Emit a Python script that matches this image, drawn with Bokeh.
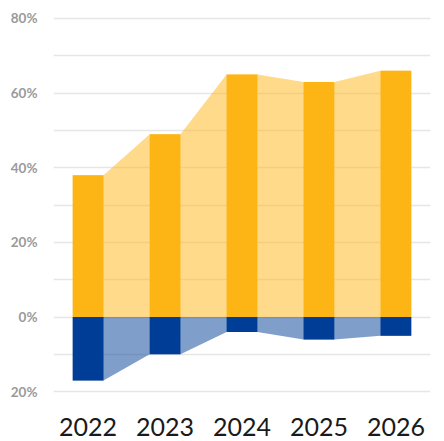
from bokeh.plotting import figure
from bokeh.models import FixedTicker, Range1d
from bokeh.embed import file_html
from bokeh.resources import INLINE

years = ["2022", "2023", "2024", "2025", "2026"]
positive = [38, 49, 65, 63, 66]
negative = [-17, -10, -4, -6, -5]
y_ticks = [-20, 0, 20, 40, 60, 80]
y_minor = [-10, 10, 30, 50, 70]
y_labels = ["20%", "0%", "20%", "40%", "60%", "80%"]

ORANGE = "#FDB515"
BLUE = "#003D96"
BW = 0.4

x = list(range(len(years)))

p = figure(width=444, height=441, output_backend="svg", toolbar_location=None,
           x_range=Range1d(-0.45, len(years) - 0.55), y_range=Range1d(-21.84, 82.14),
           min_border_left=53, min_border_right=14, min_border_top=10, min_border_bottom=43)
p.outline_line_color = None
p.background_fill_color = "white"

# connecting areas (outline through bar tops; bars drawn over)
ax, ap, an = [], [], []
for i, xi in enumerate(x):
    ax += [xi - BW / 2, xi + BW / 2]
    ap += [positive[i], positive[i]]
    an += [negative[i], negative[i]]
p.varea(x=ax, y1=[0] * len(ax), y2=ap, fill_color=ORANGE, fill_alpha=0.5)
p.varea(x=ax, y1=[0] * len(ax), y2=an, fill_color=BLUE, fill_alpha=0.5)

p.vbar(x=x, top=positive, bottom=0, width=BW, fill_color=ORANGE, line_color=None)
p.vbar(x=x, top=0, bottom=negative, width=BW, fill_color=BLUE, line_color=None)

# axes
p.xaxis.ticker = FixedTicker(ticks=x)
p.xaxis.major_label_overrides = {i: y for i, y in enumerate(years)}
p.xaxis.axis_line_color = None
p.xaxis.major_tick_line_color = None
p.xaxis.minor_tick_line_color = None
p.xaxis.major_label_text_font = "Lato"
p.xaxis.major_label_text_font_size = "25px"
p.xaxis.major_label_text_color = "#1a1a1a"
p.xaxis.major_label_standoff = 13
p.xgrid.grid_line_color = None

p.yaxis.ticker = FixedTicker(ticks=y_ticks, minor_ticks=y_minor)
p.yaxis.major_label_overrides = {t: l for t, l in zip(y_ticks, y_labels)}
p.yaxis.axis_line_color = None
p.yaxis.major_tick_line_color = None
p.yaxis.minor_tick_line_color = None
p.yaxis.major_label_text_font = "Lato"
p.yaxis.major_label_text_font_style = "bold"
p.yaxis.major_label_text_font_size = "13.5px"
p.yaxis.major_label_text_color = "#9a9a9a"
p.yaxis.major_label_standoff = 10
p.ygrid.grid_line_color = "#e6e6e6"
p.ygrid.grid_line_width = 1.5
p.ygrid.minor_grid_line_color = "#e6e6e6"
p.ygrid.minor_grid_line_width = 1.5

open("out.html", "w").write(file_html(p, INLINE))
